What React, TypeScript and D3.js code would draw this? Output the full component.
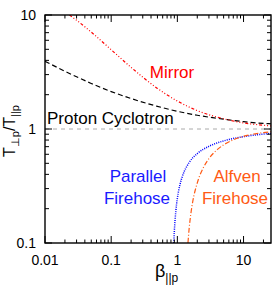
import React from 'react';
import * as d3 from 'd3';

// threshold curves, values
const cyclotronBeta = [0.01, 0.02, 0.03, 0.05, 0.1, 0.2, 0.5, 1, 2, 5, 10, 20, 26];
const cyclotronRatio = [3.93, 3.21, 2.87, 2.51, 2.13, 1.85, 1.58, 1.43, 1.32, 1.22, 1.16, 1.12, 1.11];

const mirrorBeta = [0.0234, 0.03, 0.04, 0.05, 0.1, 0.2, 0.5, 1, 2, 5, 10, 20, 26];
const mirrorRatio = [10, 9.0, 7.88, 7.08, 4.96, 3.47, 2.27, 1.76, 1.45, 1.23, 1.13, 1.08, 1.065];

const parallelBeta = [0.883, 0.9, 0.95, 1, 1.1, 1.2, 1.5, 2, 3, 5, 10, 20, 26];
const parallelRatio = [0.1, 0.126, 0.192, 0.246, 0.329, 0.389, 0.506, 0.608, 0.705, 0.786, 0.857, 0.902, 0.915];

const alfvenBeta = [1.446, 1.5, 1.6, 1.7, 2, 2.5, 3, 4, 5, 7, 10, 15, 20, 26];
const alfvenRatio = [0.1, 0.13, 0.181, 0.227, 0.337, 0.464, 0.55, 0.659, 0.726, 0.803, 0.862, 0.907, 0.93, 0.946];

const xTicks = [0.01, 0.1, 1, 10];
const xTickLabels = ['0.01', '0.1', '1', '10'];
const yTicks = [0.1, 1, 10];
const yTickLabels = ['0.1', '1', '10'];

const W = 275;
const H = 297;
const left = 45, right = 271, top = 15, bottom = 243;

const App: React.FC = () => {
    const x = d3.scaleLog().domain([0.01, 26]).range([left, right]);
    const y = d3.scaleLog().domain([0.1, 10]).range([bottom, top]);

    const line = d3.line<[number, number]>()
        .x(d => x(d[0]))
        .y(d => y(d[1]))
        .curve(d3.curveMonotoneX);

    const zip = (a: number[], b: number[]) => a.map((v, i) => [v, b[i]] as [number, number]);

    // minor ticks 2..9 in each decade
    const minorX: number[] = [];
    [0.01, 0.1, 1, 10].forEach(d => {
        for (let k = 2; k <= 9; k++) if (d * k <= 26) minorX.push(d * k);
    });
    const minorY: number[] = [];
    [0.1, 1].forEach(d => {
        for (let k = 2; k <= 9; k++) minorY.push(d * k);
    });

    const font = '"Liberation Sans", Arial, Helvetica, sans-serif';

    return (
        <svg width={W} height={H} style={{ position: 'absolute', left: 0, top: 0 }} fontFamily={font}>
            <defs>
                <clipPath id="plotClip">
                    <rect x={left} y={top} width={right - left} height={bottom - top} />
                </clipPath>
            </defs>

            {/* reference line at 1 */}
            <line x1={left} x2={right} y1={y(1)} y2={y(1)} stroke="#aaa" strokeWidth={1} strokeDasharray="4,4" />

            <g clipPath="url(#plotClip)" fill="none">
                <path d={line(zip(cyclotronBeta, cyclotronRatio)) || ''} stroke="#000" strokeWidth={1.2} strokeDasharray="5,3" />
                <path d={line(zip(mirrorBeta, mirrorRatio)) || ''} stroke="#ff0000" strokeWidth={1.2} strokeDasharray="3,2,1,2,1,2,1,2" />
                <path d={line(zip(parallelBeta, parallelRatio)) || ''} stroke="#0000ff" strokeWidth={1.5} strokeDasharray="1,1.2" />
                <path d={line(zip(alfvenBeta, alfvenRatio)) || ''} stroke="#ff5a14" strokeWidth={1.2} strokeDasharray="5,2,1,2" />
            </g>

            {/* frame */}
            <rect x={left} y={top} width={right - left} height={bottom - top} fill="none" stroke="#000" strokeWidth={1.4} />

            {/* ticks */}
            <g stroke="#000" strokeWidth={1}>
                {xTicks.map(t => (
                    <g key={'xm' + t}>
                        <line x1={x(t)} x2={x(t)} y1={bottom} y2={bottom - 7} />
                        <line x1={x(t)} x2={x(t)} y1={top} y2={top + 7} />
                    </g>
                ))}
                {minorX.map(t => (
                    <g key={'xn' + t}>
                        <line x1={x(t)} x2={x(t)} y1={bottom} y2={bottom - 3.5} />
                        <line x1={x(t)} x2={x(t)} y1={top} y2={top + 3.5} />
                    </g>
                ))}
                {yTicks.map(t => (
                    <g key={'ym' + t}>
                        <line x1={left} x2={left + 7} y1={y(t)} y2={y(t)} />
                        <line x1={right} x2={right - 7} y1={y(t)} y2={y(t)} />
                    </g>
                ))}
                {minorY.map(t => (
                    <g key={'yn' + t}>
                        <line x1={left} x2={left + 4} y1={y(t)} y2={y(t)} />
                        <line x1={right} x2={right - 4} y1={y(t)} y2={y(t)} />
                    </g>
                ))}
            </g>

            {/* tick labels */}
            <g fontSize={14} fill="#000">
                {xTicks.map((t, i) => (
                    <text key={'xl' + t} x={x(t)} y={265} textAnchor="middle">{xTickLabels[i]}</text>
                ))}
                {yTicks.map((t, i) => (
                    <text key={'yl' + t} x={36} y={y(t)} dy="0.35em" textAnchor="end">{yTickLabels[i]}</text>
                ))}
            </g>

            {/* axis titles */}
            <text x={155} y={277} fontSize={18} fill="#000">
                β<tspan fontSize={12} dy={5}>||p</tspan>
            </text>
            <text transform="translate(15,131) rotate(-90)" textAnchor="middle" fontSize={16} fill="#000">
                T<tspan fontSize={11} dy={4}>⊥p</tspan><tspan dy={-4}>/T</tspan><tspan fontSize={11} dy={4}>||p</tspan>
            </text>

            {/* curve labels */}
            <g fontSize={17}>
                <text x={172} y={78} textAnchor="middle" fill="#ff0000">Mirror</text>
                <text x={47} y={124} fill="#000">Proton Cyclotron</text>
                <text x={138} y={182} textAnchor="middle" fill="#1a1aff">Parallel</text>
                <text x={137} y={204} textAnchor="middle" fill="#1a1aff">Firehose</text>
                <text x={237} y={182} textAnchor="middle" fill="#ff5a14">Alfven</text>
                <text x={235} y={204} textAnchor="middle" fill="#ff5a14">Firehose</text>
            </g>
        </svg>
    );
};

export default App;
